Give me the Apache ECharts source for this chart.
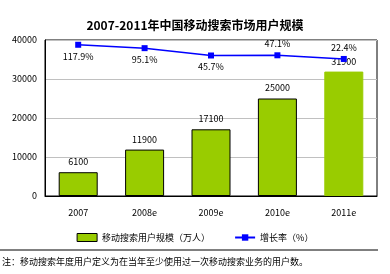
<!DOCTYPE html>
<html><head><meta charset="utf-8">
<script src="https://cdn.jsdelivr.net/npm/echarts@6/dist/echarts.min.js"></script>
<style>html,body{margin:0;padding:0;background:#fff}#c{width:390px;height:274px}</style>
</head><body><div id="c"></div>
<script>
var categories = ['2007', '2008e', '2009e', '2010e', '2011e'];
var users = [6100, 11900, 17100, 25000, 31900];
var growth = [117.9, 95.1, 45.7, 47.1, 22.4];
var growthLabelPos = ['bottom', 'bottom', 'bottom', 'top', 'top'];
var leftTicks = [0, 10000, 20000, 30000, 40000];

var F = '"Noto Sans CJK SC", sans-serif';
var chart = echarts.init(document.getElementById('c'));
chart.setOption({
  animation: false,
  title: {
    text: '2007-2011年中国移动搜索市场用户规模',
    left: 'center', top: 14,
    textStyle: { fontSize: 12, fontWeight: 'bold', color: '#000', fontFamily: F }
  },
  grid: { left: 45, right: 13, top: 40, bottom: 78, show: true, borderColor: '#000', borderWidth: 1, backgroundColor: '#fff' },
  legend: {
    top: 228, left: 'center', itemGap: 24, itemWidth: 20, itemHeight: 8,
    textStyle: { fontSize: 9, color: '#000', fontFamily: F },
    data: [
      { name: '移动搜索用户规模（万人）', icon: 'rect', itemStyle: { color: '#99cc00', borderColor: '#000', borderWidth: 1 } },
      { name: '增长率（%）' }
    ]
  },
  graphic: [
    { type: 'line', shape: { x1: 0, y1: 250, x2: 378, y2: 250 }, style: { stroke: '#000', lineWidth: 1 } },
    { type: 'text', left: 2, top: 257, style: { text: '注：移动搜索年度用户定义为在当年至少使用过一次移动搜索业务的用户数。', fontSize: 9, fill: '#000', fontFamily: F } }
  ],
  xAxis: {
    type: 'category', data: categories,
    axisLine: { lineStyle: { color: '#000' } },
    axisTick: { show: false },
    axisLabel: { fontSize: 9, color: '#000', margin: 12, fontFamily: F }
  },
  yAxis: [
    {
      type: 'value', min: leftTicks[0], max: leftTicks[leftTicks.length - 1], interval: 10000,
      axisLine: { show: true, lineStyle: { color: '#000' } },
      axisTick: { show: false },
      axisLabel: { fontSize: 9, color: '#000', margin: 8, fontFamily: F, formatter: function (v) { return String(v); } },
      splitLine: { lineStyle: { color: '#c0c0c0' } }
    },
    { type: 'value', min: -900, max: 150, show: false, splitLine: { show: false } }
  ],
  series: [
    {
      name: '移动搜索用户规模（万人）', type: 'bar', barWidth: 39,
      data: users.map(function (v, i) {
        return { value: v, itemStyle: { borderColor: i < 4 ? '#000' : '#99cc00', borderWidth: 1 } };
      }),
      itemStyle: { color: '#99cc00' },
      label: { show: true, position: 'top', distance: 6, fontSize: 9, color: '#000', fontFamily: F }
    },
    {
      name: '增长率（%）', type: 'line', yAxisIndex: 1,
      symbol: 'rect', symbolSize: 6,
      lineStyle: { color: '#0000ff', width: 1.5 },
      itemStyle: { color: '#0000ff' },
      data: growth.map(function (v, i) {
        return { value: v, label: { position: growthLabelPos[i] } };
      }),
      label: { show: true, fontSize: 9, color: '#000', fontFamily: F, distance: 4, formatter: function (p) { return p.value + '%'; } }
    }
  ]
});
</script></body></html>
